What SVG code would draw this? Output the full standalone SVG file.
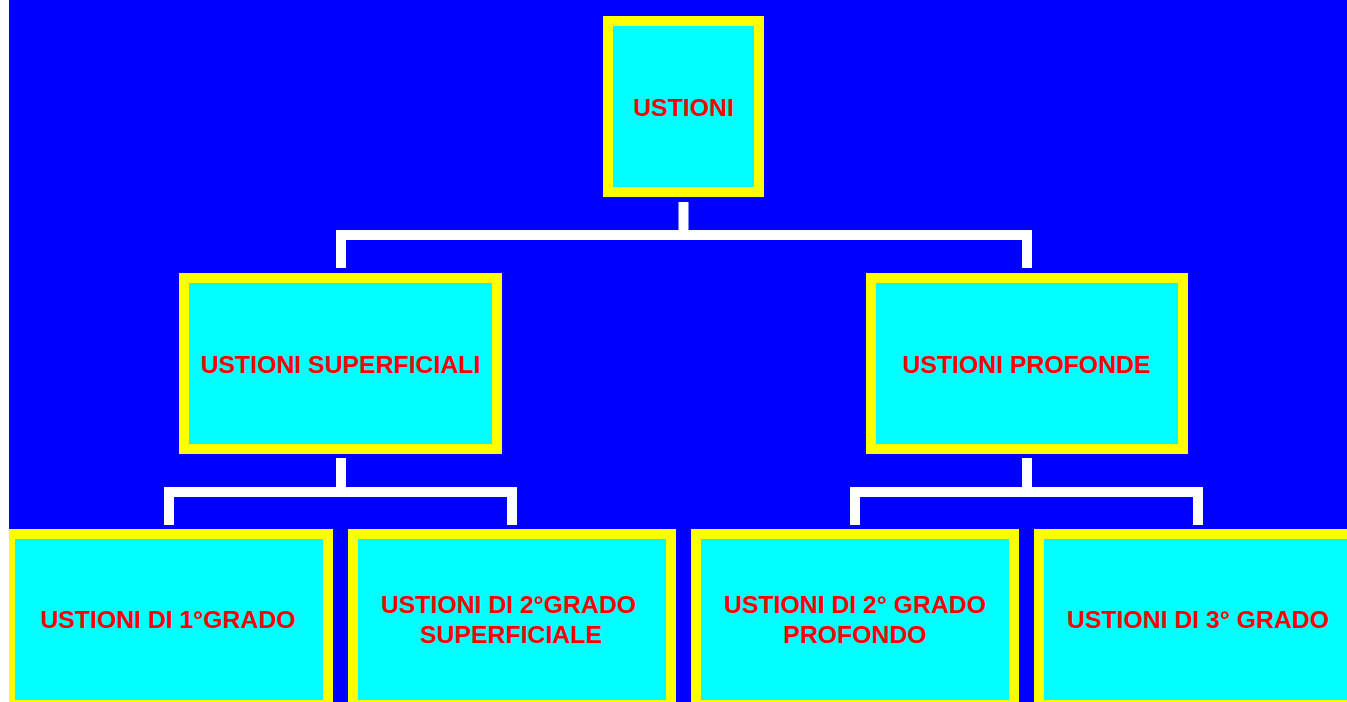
<svg xmlns="http://www.w3.org/2000/svg" width="1347" height="702" viewBox="0 0 1347 702">
<style>
.box{fill:#00FFFF;stroke:#FFFF00;stroke-width:10}
.lbl{font-family:"Liberation Sans",Arial,sans-serif;font-weight:bold;font-size:24.8px;fill:#FF0000;text-anchor:middle}
.conn{fill:none;stroke:#FFFFFF;stroke-width:10;stroke-linejoin:miter}
</style>
<defs><clipPath id="clipL"><rect x="9" y="0" width="1338" height="702"/></clipPath></defs>
<rect x="0" y="0" width="1347" height="702" fill="#FFFFFF"/>
<rect x="9" y="0" width="1338" height="702" fill="#0000FF"/>
<g id="connectors">
<path class="conn" d="M683.5 202 V235"/>
<path class="conn" d="M341 268 V235 H1027 V268"/>
<path class="conn" d="M341 458 V492"/>
<path class="conn" d="M169 525 V492 H512 V525"/>
<path class="conn" d="M1027 458 V492"/>
<path class="conn" d="M855 525 V492 H1198 V525"/>
</g>
<g id="n-ustioni"><rect class="box" x="608" y="21" width="151" height="171"/><text class="lbl" x="683.5" y="116">USTIONI</text></g>
<g id="n-superficiali"><rect class="box" x="184" y="278" width="313" height="171"/><text class="lbl" x="340.5" y="373">USTIONI SUPERFICIALI</text></g>
<g id="n-profonde"><rect class="box" x="871" y="278" width="312" height="171"/><text class="lbl" x="1026.5" y="373">USTIONI PROFONDE</text></g>
<g id="n-grado1" clip-path="url(#clipL)"><rect class="box" x="10" y="534" width="318" height="171"/><text class="lbl" x="168" y="628">USTIONI DI 1°GRADO</text></g>
<g id="n-grado2s"><rect class="box" x="353" y="534" width="318" height="171"/><text class="lbl" x="508.5" y="613">USTIONI DI 2°GRADO</text><text class="lbl" x="511" y="643">SUPERFICIALE</text></g>
<g id="n-grado2p"><rect class="box" x="696" y="534" width="318" height="171"/><text class="lbl" x="855" y="613">USTIONI DI 2° GRADO</text><text class="lbl" x="855" y="643">PROFONDO</text></g>
<g id="n-grado3"><rect class="box" x="1039" y="534" width="318" height="171"/><text class="lbl" x="1198" y="628">USTIONI DI 3° GRADO</text></g>
</svg>
